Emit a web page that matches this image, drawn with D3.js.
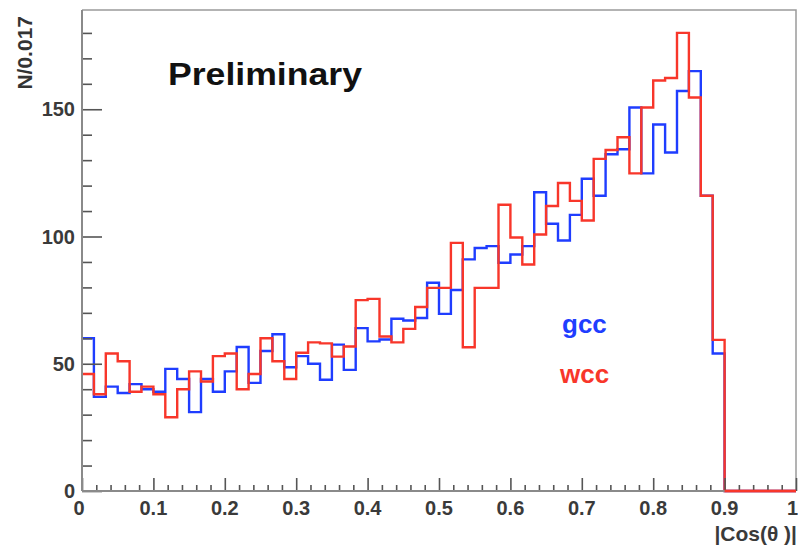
<!DOCTYPE html>
<html>
<head>
<meta charset="utf-8">
<script src="https://cdn.jsdelivr.net/npm/d3@7"></script>
<style>
  html, body { margin: 0; padding: 0; background: #fff; }
  svg { display: block; }
  text { font-family: "Liberation Sans", Arial, Helvetica, sans-serif; }
</style>
</head>
<body>
<svg id="chart" width="798" height="545"></svg>
<script>
// ---- data ----
const nBins = 60;
const xMin = 0, xMax = 1;
const gcc = [60, 37, 41, 38.5, 42, 40, 39, 48, 44, 31,
             44, 39, 47, 56.6, 42.5, 55, 61.6, 48.6, 53, 50,
             43.7, 57.5, 47.6, 64, 58.8, 59.5, 67.7, 67, 68, 81.8,
             69.6, 79, 91, 95.5, 96.2, 89.7, 92.9, 96.2, 117.4, 105,
             98.4, 108.5, 122.7, 116, 132.3, 134.3, 150.7, 124.8, 144, 133,
             157.2, 165, 116, 54, 0, 0, 0, 0, 0, 0];
const wcc = [46, 38, 54, 51, 39, 41, 38, 29, 40, 47,
             43, 53, 54, 40, 46, 60, 51, 44, 54.3, 58.4,
             58, 52.8, 56.8, 75, 75.5, 60.7, 58.4, 63.7, 72.3, 79.8,
             79.8, 97.5, 56.5, 79.8, 79.8, 112.5, 99.6, 89, 100.8, 112,
             121, 114, 106.3, 130.5, 134, 139, 124.8, 150.7, 161.3, 162.3,
             180, 154.6, 116, 59.4, 0, 0, 0, 0, 0, 0];
const xTickLabels = ["0", "0.1", "0.2", "0.3", "0.4", "0.5", "0.6", "0.7", "0.8", "0.9", "1"];
const yTickLabels = ["0", "50", "100", "150"];
const seriesNames = ["gcc", "wcc"];
const seriesColors = ["#1f3dff", "#f8362a"];
const yTitle = "N/0.017";
const xTitle = "|Cos(\u03B8 )|";
const note = "Preliminary";

// ---- layout ----
const svg = d3.select("#chart");
const L = 82, R = 796, T = 10, B = 491;
const x = d3.scaleLinear().domain([xMin, xMax]).range([L, R]);
const y = d3.scaleLinear().domain([0, 189]).range([B, T]);
const bw = (xMax - xMin) / nBins;

// frame (top/right)
svg.append("path")
  .attr("d", `M${L},${T}H${R}V${B}`)
  .attr("fill", "none").attr("stroke", "#9a9a9a").attr("stroke-width", 1.5);

// histograms
function stepPath(vals) {
  const p = d3.path();
  p.moveTo(x(xMin), y(vals[0]));
  vals.forEach((v, i) => {
    p.lineTo(x(xMin + i * bw), y(v));
    p.lineTo(x(xMin + (i + 1) * bw), y(v));
  });
  return p.toString();
}
[gcc, wcc].forEach((vals, k) => {
  svg.append("path")
    .attr("d", stepPath(vals))
    .attr("fill", "none")
    .attr("stroke", seriesColors[k])
    .attr("stroke-width", 2.4)
    .attr("stroke-linejoin", "miter");
});

// y axis
const yAxis = d3.axisRight(y)
  .tickValues(d3.range(0, 181, 10))
  .tickSize(10)
  .tickFormat(() => "");
const gy = svg.append("g").attr("transform", `translate(${L},0)`).call(yAxis);
gy.select(".domain").remove();
gy.selectAll(".tick line")
  .attr("stroke", "#555").attr("stroke-width", 1.6)
  .attr("x2", d => (d % 50 === 0 ? 20 : 10));
yTickLabels.forEach(t => {
  svg.append("text")
    .attr("x", L - 7).attr("y", y(+t))
    .attr("dy", "0.36em")
    .attr("text-anchor", "end")
    .attr("font-size", 20).attr("font-weight", "bold")
    .attr("fill", "#3a3a3a")
    .text(t);
});

// x axis
const xAxis = d3.axisTop(x)
  .tickValues(d3.range(0, 51).map(i => i / 50))
  .tickSize(6)
  .tickFormat(() => "");
const gx = svg.append("g").attr("transform", `translate(0,${B})`).call(xAxis);
gx.select(".domain").remove();
gx.selectAll(".tick line")
  .attr("stroke", "#555").attr("stroke-width", 1.6)
  .attr("y2", (d, i) => (i % 5 === 0 ? -13 : -6));
xTickLabels.forEach((t, i) => {
  const last = i === xTickLabels.length - 1;
  svg.append("text")
    .attr("x", last ? 798 : x(+t) - (i === 0 ? 3 : 0)).attr("y", B + 24)
    .attr("text-anchor", last ? "end" : "middle")
    .attr("font-size", 20).attr("font-weight", "bold")
    .attr("fill", "#3a3a3a")
    .text(t);
});

// axis lines
svg.append("line").attr("x1", L).attr("x2", L).attr("y1", T).attr("y2", B)
  .attr("stroke", "#8a8a8a").attr("stroke-width", 2);
svg.append("line").attr("x1", L).attr("x2", R).attr("y1", B).attr("y2", B)
  .attr("stroke", "#8a8a8a").attr("stroke-width", 2);

// red zero line over axis for x>0.9
svg.append("line").attr("x1", x(0.9)).attr("x2", x(xMax)).attr("y1", y(0)).attr("y2", y(0))
  .attr("stroke", seriesColors[1]).attr("stroke-width", 2.4);

// titles
svg.append("text")
  .attr("transform", "translate(32,16) rotate(-90)")
  .attr("text-anchor", "end")
  .attr("font-size", 21).attr("font-weight", "bold")
  .attr("fill", "#333")
  .text(yTitle);
svg.append("text")
  .attr("x", 797).attr("y", 541)
  .attr("text-anchor", "end")
  .attr("font-size", 21).attr("font-weight", "bold")
  .attr("fill", "#3a3a3a")
  .text(xTitle);

// annotation
svg.append("text")
  .attr("x", 168).attr("y", 85)
  .attr("font-size", 31).attr("font-weight", "bold")
  .attr("fill", "#111")
  .attr("textLength", 194).attr("lengthAdjust", "spacingAndGlyphs")
  .text(note);

// legend texts
svg.append("text").attr("x", 562).attr("y", 333)
  .attr("font-size", 26).attr("font-weight", "bold")
  .attr("fill", seriesColors[0]).text(seriesNames[0]);
svg.append("text").attr("x", 560).attr("y", 383)
  .attr("font-size", 26).attr("font-weight", "bold")
  .attr("fill", seriesColors[1]).text(seriesNames[1]);
</script>
</body>
</html>
